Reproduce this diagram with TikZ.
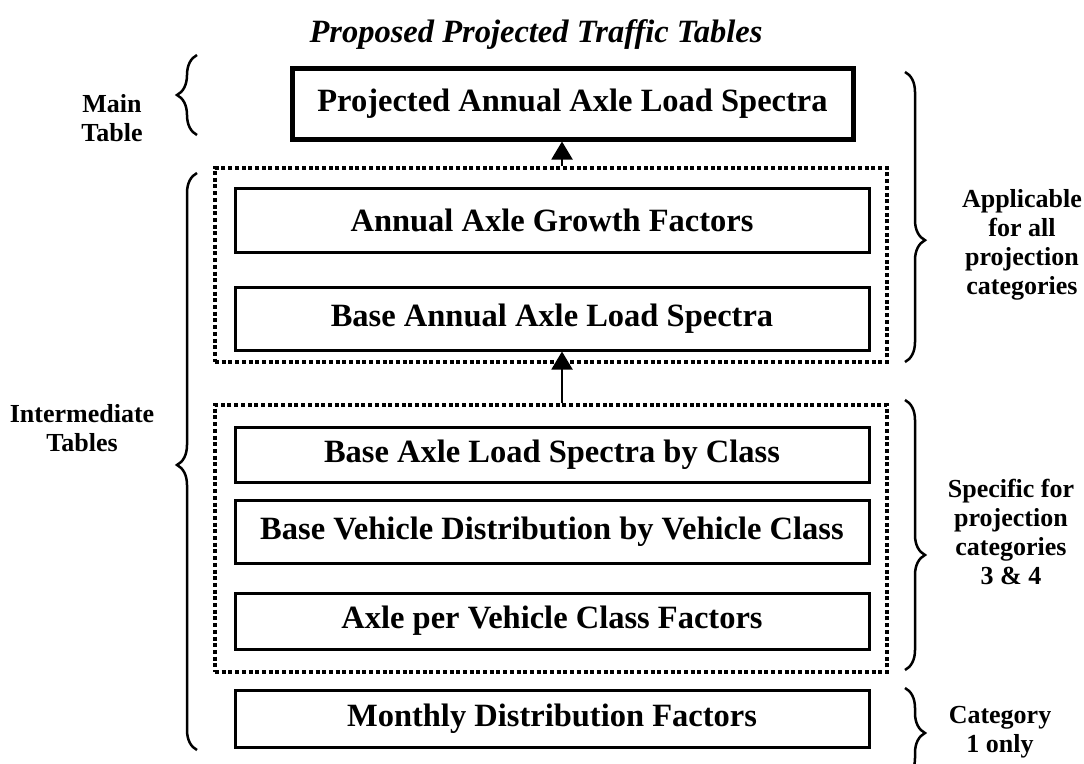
\documentclass[tikz,border=0pt]{standalone}
\usepackage{fontspec}
\setmainfont{Liberation Serif}
\usetikzlibrary{arrows.meta,decorations.pathreplacing}
\begin{document}
\begin{tikzpicture}[x=1pt,y=-1pt,
  box/.style={draw,line width=3pt,rectangle,inner sep=0pt,font=\fontsize{32.5}{38}\selectfont\bfseries},
  mainbox/.style={box,line width=5pt},
  dotbox/.style={draw,line width=3.5pt,dash pattern=on 4pt off 2.7pt,rectangle,inner sep=0pt},
  side/.style={align=center,font=\fontsize{26}{29}\selectfont\bfseries,inner sep=0pt},
  brc/.style={decorate,decoration={brace,amplitude=20pt},line width=2.5pt},
  arr/.style={line width=2pt,-{Triangle[width=21pt,length=18pt]}}
]
\useasboundingbox (0,0) rectangle (1084,763);

\node[font=\fontsize{32.5}{38}\selectfont\bfseries\itshape,inner sep=0pt] (title) at (536,35) {Proposed Projected Traffic Tables};

\node[mainbox,minimum width=561pt,minimum height=71pt] (main) at (572.5,103.5) {Projected Annual Axle Load Spectra};

\node[dotbox,minimum width=672pt,minimum height=194pt] (d1) at (551,265) {};
\node[box,minimum width=634pt,minimum height=64pt] (b1) at (552,220) {Annual Axle Growth Factors};
\node[box,minimum width=634pt,minimum height=63pt] (b2) at (552,318.5) {Base Annual Axle Load Spectra};

\node[dotbox,minimum width=672pt,minimum height=267pt] (d2) at (551,538.5) {};
\node[box,minimum width=634pt,minimum height=55pt] (b3) at (552,454.5) {Base Axle Load Spectra by Class};
\node[box,minimum width=634pt,minimum height=63pt] (b4) at (552,531.5) {Base Vehicle Distribution by Vehicle Class};
\node[box,minimum width=634pt,minimum height=56pt] (b5) at (552,621) {Axle per Vehicle Class Factors};
\node[box,minimum width=634pt,minimum height=57pt] (b6) at (552,718.5) {Monthly Distribution Factors};

\coordinate (ax) at (562,0);
\draw[arr] (d1.north -| ax) -- (main.south -| ax);
\draw[arr] (d2.north -| ax) -- (b2.south -| ax);

\node[side] (lmain) at (112,118) {Main\\Table};
\node[side] (linter) at (82,428) {Intermediate\\Tables};
\node[side] (rapp) at (1022,245) {Applicable\\for all\\projection\\categories};
\node[side] (rspec) at (1011,532) {Specific for\\projection\\categories\\3 \& 4};
\node[side] (rcat) at (1000,732) {Category\\1 only};

\draw[brc] (197,135) -- (197,55);
\draw[brc,decoration={aspect=0.494}] (197,750) -- (197,173);
\draw[brc,decoration={aspect=0.58}] (905,72) -- (905,362);
\draw[brc,decoration={aspect=0.574}] (905,400) -- (905,670);
\draw[brc] (905,688) -- (905,778);
\end{tikzpicture}
\end{document}
